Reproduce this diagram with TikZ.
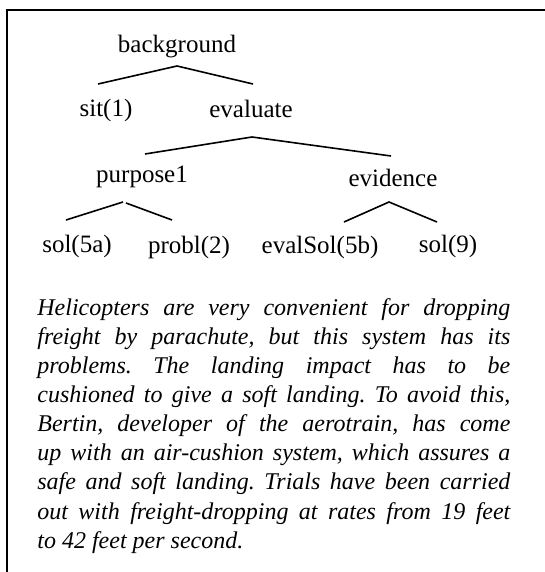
\documentclass[tikz,border=0pt]{standalone}
\usepackage{fontspec}
\setmainfont{Liberation Serif}
\usetikzlibrary{positioning, calc}

\begin{document}
\begin{tikzpicture}[
    x=0.5pt, y=-0.5pt,
    rel/.style={font=\fontsize{12.5}{14}\selectfont, anchor=base, inner sep=0pt},
    arm/.style={line width=0.8pt},
    frame/.style={line width=1pt},
    story/.style={anchor=north west, inner sep=0pt, text width=236.5pt, align=justify,
        font=\itshape\fontsize{12}{14.55}\selectfont}
]
\useasboundingbox (0,0) rectangle (545,572);

% Marco abierto (arriba e izquierda)
\coordinate (topright) at (545,10);
\coordinate (corner) at (7,10);
\coordinate (bottomleft) at (7,572);
\draw[frame] (topright) -- (corner) -- (bottomleft);

% Nodos del árbol retórico
\node[rel] (bg) at (177,53) {background};
\node[rel] (sit) at (106,117) {sit(1)};
\node[rel] (eval) at (251,118) {evaluate};
\node[rel] (purp) at (142,183) {purpose1};
\node[rel] (evid) at (393,187) {evidence};
\node[rel] (sol5a) at (77,252) {sol(5a)};
\node[rel] (probl) at (189,253) {probl(2)};
\node[rel] (evsol) at (320,253) {evalSol(5b)};
\node[rel] (sol9) at (448,252) {sol(9)};

% Puntos de las ramas
\coordinate (bg-top) at (177,66);
\coordinate (bg-l) at (98,84);
\coordinate (bg-r) at (253,84);
\coordinate (eval-top) at (252,137);
\coordinate (eval-l) at (145,154);
\coordinate (eval-r) at (391,156);
\coordinate (purp-top) at (123,202);
\coordinate (purp-l) at (66,220);
\coordinate (purp-r) at (172,220);
\coordinate (evid-top) at (389,202);
\coordinate (evid-l) at (344,222);
\coordinate (evid-r) at (437,222);

% Ramas
\draw[arm] (bg-l) -- (bg-top) -- (bg-r);
\draw[arm] (eval-l) -- (eval-top) -- (eval-r);
\draw[arm] (purp-l) -- (purp-top);
\draw[arm] ($(purp-top)+(3,1)$) -- (purp-r);
\draw[arm] (evid-l) -- (evid-top) -- (evid-r);

% Texto del ejemplo
\node[story] (text) at (37,298) {\tolerance=10000 \hyphenpenalty=10000 \frenchspacing
Helicopters are very convenient for dropping\linebreak
freight by parachute, but this system has its\linebreak
problems. The landing impact has to be\linebreak
cushioned to give a soft landing. To avoid this,\linebreak
Bertin, developer of the aerotrain, has come\linebreak
up with an air-cushion system, which assures a\linebreak
safe and soft landing. Trials have been carried\linebreak
out with freight-dropping at rates from 19 feet\linebreak
to 42 feet per second.};

\end{tikzpicture}
\end{document}
